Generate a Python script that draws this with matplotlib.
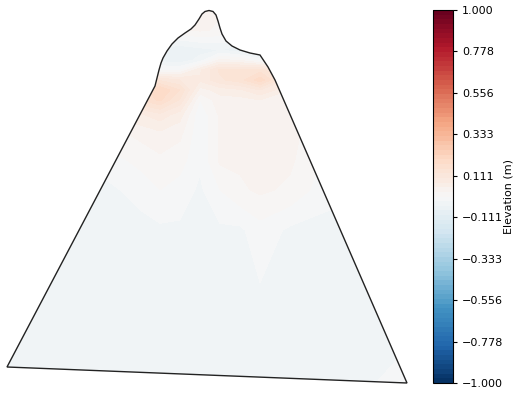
import numpy as np
import matplotlib
matplotlib.use('Agg')
import matplotlib.pyplot as plt
from matplotlib.patches import Polygon

# outline of the domain (x right, y down)
outline_x = [7, 155, 157, 159, 161, 163, 167, 172, 178, 185, 191, 195, 199, 202,
             205, 209, 213, 216, 218, 220, 222, 226, 232, 240, 250, 260, 268, 275, 407]
outline_y = [367, 86, 78, 70, 63, 58, 51, 44, 38, 33, 29, 25, 19, 14,
             11.5, 10.5, 11.5, 15, 21, 28, 34, 41, 46, 50, 53, 55, 67, 80, 383]

# elevation change sampled on a coarse grid
grid_x = [0, 100, 140, 160, 180, 200, 220, 240, 260, 290, 330, 410]
grid_y = [5, 30, 50, 60, 70, 80, 90, 100, 115, 135, 160, 190, 230, 300, 390]
elev = [
    [0.03, 0.03, 0.03, 0.03, 0.03, 0.03, 0.03, 0.03, 0.03, 0.03, 0.03, 0.03],
    [0.02, 0.02, 0.02, 0.01, 0.02, 0.03, 0.02, 0.02, 0.02, 0.02, 0.02, 0.02],
    [-0.04, -0.04, -0.05, -0.06, -0.07, -0.06, -0.05, -0.07, -0.06, -0.04, -0.04, -0.04],
    [-0.04, -0.04, -0.05, -0.06, -0.07, -0.04, 0.03, 0.02, -0.02, -0.03, -0.03, -0.03],
    [0.00, 0.00, 0.02, 0.00, 0.00, 0.07, 0.13, 0.13, 0.14, 0.06, 0.02, 0.02],
    [0.06, 0.06, 0.10, 0.12, 0.10, 0.08, 0.12, 0.14, 0.19, 0.08, 0.03, 0.03],
    [0.12, 0.12, 0.16, 0.20, 0.15, 0.04, 0.06, 0.07, 0.10, 0.05, 0.03, 0.03],
    [0.10, 0.10, 0.15, 0.18, 0.12, 0.00, 0.04, 0.04, 0.05, 0.04, 0.03, 0.03],
    [0.04, 0.05, 0.07, 0.09, 0.06, -0.02, 0.03, 0.04, 0.04, 0.03, 0.02, 0.02],
    [0.01, 0.01, 0.03, 0.04, 0.03, -0.02, 0.03, 0.04, 0.04, 0.03, 0.01, 0.01],
    [-0.02, -0.02, 0.01, 0.02, 0.01, -0.02, 0.03, 0.03, 0.04, 0.03, -0.01, -0.02],
    [-0.03, -0.03, -0.02, 0.00, -0.01, -0.03, 0.00, 0.02, 0.03, 0.02, -0.02, -0.03],
    [-0.03, -0.03, -0.03, -0.03, -0.03, -0.03, -0.03, -0.03, -0.01, -0.03, -0.03, -0.03],
    [-0.03, -0.03, -0.03, -0.03, -0.03, -0.03, -0.03, -0.03, -0.03, -0.03, -0.03, -0.03],
    [-0.03, -0.03, -0.03, -0.03, -0.03, -0.03, -0.03, -0.03, -0.03, -0.03, -0.03, -0.02],
]

cbar_ticks = np.linspace(-1, 1, 10)
cbar_labels = [('%.3f' % t).replace('-', '\u2212') for t in cbar_ticks]

fig = plt.figure(figsize=(5.2, 3.93), dpi=100)
ax = fig.add_axes([0, 0, 415 / 520, 1])
ax.set_xlim(0, 415)
ax.set_ylim(393, 0)
ax.axis('off')

levels = np.linspace(-1, 1, 81)
cf = ax.contourf(grid_x, grid_y, np.array(elev), levels=levels, cmap='RdBu_r',
                 vmin=-1, vmax=1)
poly = Polygon(np.column_stack([outline_x, outline_y]), closed=True,
               facecolor='none', edgecolor='#222222', lw=1.0, zorder=3)
ax.add_patch(poly)
cf.set_clip_path(poly)

cax = fig.add_axes([433 / 520, 10 / 393, 20 / 520, 373 / 393])
cb = fig.colorbar(cf, cax=cax, ticks=cbar_ticks)
cb.ax.set_yticklabels(cbar_labels)
cb.ax.tick_params(labelsize=8, length=3, width=0.8)
cb.outline.set_linewidth(0.8)
cb.set_label('Elevation (m)', fontsize=8, labelpad=0)

fig.savefig('out.png', dpi=100)
